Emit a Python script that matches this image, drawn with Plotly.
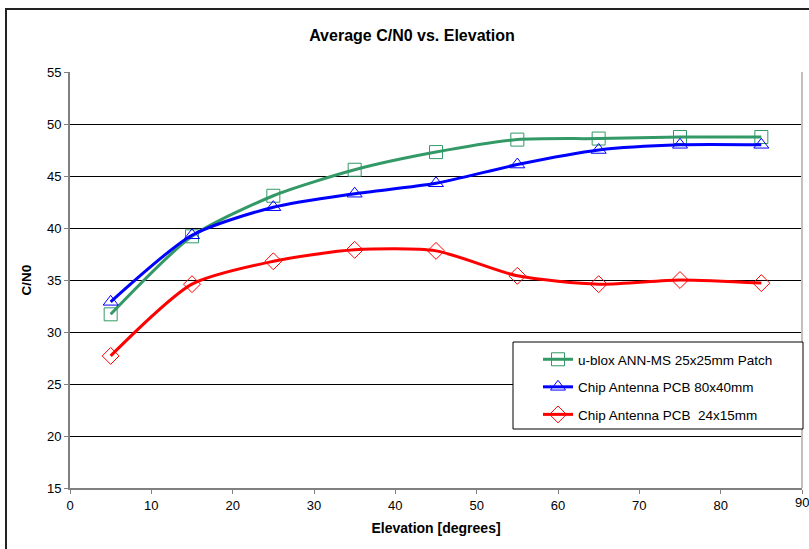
import plotly.graph_objects as go

elevation = [5, 15, 25, 35, 45, 55, 65, 75, 85]
ublox_patch = [31.7, 39.2, 43.1, 45.6, 47.3, 48.5, 48.6, 48.75, 48.75]
chip_80x40 = [32.9, 39.3, 42.0, 43.3, 44.3, 46.1, 47.5, 48.0, 48.0]
chip_24x15 = [27.7, 34.6, 36.8, 37.9, 37.8, 35.4, 34.6, 35.0, 34.7]
names = ["u-blox ANN-MS 25x25mm Patch", "Chip Antenna PCB 80x40mm", "Chip Antenna PCB  24x15mm"]
x_tick_vals = [0, 10, 20, 30, 40, 50, 60, 70, 80]
last_x_tick = 90

W, H = 809, 549
L, R, T, B = 70, 7, 72, 61
pw, ph = W - L - R, H - T - B

def px(x):
    return (x - L) / pw

def py(y):
    return (H - B - y) / ph

fig = go.Figure()
series = [
    (ublox_patch, "#339966", "square-open"),
    (chip_80x40, "#0000FF", "triangle-up-open"),
    (chip_24x15, "#FF0000", "diamond-open"),
]
for i, ((vals, col, sym), nm) in enumerate(zip(series, names)):
    fig.add_trace(go.Scatter(
        x=elevation, y=vals, name=nm, mode="lines+markers",
        line=dict(color=col, width=3, shape="spline", smoothing=0.7),
        marker=dict(symbol=sym, size=13, color=col, line=dict(width=1, color=col)),
        legendgroup=f"g{i}",
    ))

fig.update_layout(
    width=W, height=H,
    margin=dict(l=L, r=R, t=T, b=B, autoexpand=False),
    paper_bgcolor="white", plot_bgcolor="white",
    font=dict(family="Liberation Sans, Arial, sans-serif", size=13, color="black"),
    title=dict(text="<b>Average C/N0 vs. Elevation</b>", x=412 / W, xanchor="center",
               y=1 - 35 / H, yanchor="middle", font=dict(size=16)),
    showlegend=True,
    legend=dict(x=px(538), y=py(344), xanchor="left", yanchor="top",
                bgcolor="rgba(0,0,0,0)", borderwidth=0,
                traceorder="grouped", tracegroupgap=7,
                font=dict(size=13.5)),
    xaxis=dict(range=[0, 90], tickmode="array", tickvals=x_tick_vals + [last_x_tick],
               ticktext=[str(v) for v in x_tick_vals] + [""],
               showgrid=False, zeroline=False,
               showline=True, linecolor="#808080", linewidth=2, automargin=False,
               ticks="outside", ticklen=4, tickcolor="#808080",
               title=dict(text="<b>Elevation [degrees]</b>", font=dict(size=14), standoff=12)),
    yaxis=dict(range=[15, 55], dtick=5, tick0=15, showgrid=True, gridcolor="black", gridwidth=1,
               zeroline=False, showline=True, linecolor="#808080", linewidth=2, mirror=False,
               automargin=False,
               ticks="outside", ticklen=4, tickcolor="#808080",
               title=dict(text="<b>C/N0</b>", font=dict(size=13.5), standoff=12)),
)

# tick label at the clipped right edge
fig.add_annotation(x=last_x_tick, xref="x", y=0, yref="paper", yanchor="top", yshift=-5,
                   text=str(last_x_tick), showarrow=False, font=dict(size=13))

# right plot-area border
fig.add_shape(type="line", xref="paper", yref="paper", x0=1, x1=1, y0=0, y1=1,
              line=dict(color="#C0C0C0", width=2))
# legend box
fig.add_shape(type="rect", xref="paper", yref="paper", layer="above",
              x0=px(513), x1=px(803), y0=py(429), y1=py(342),
              fillcolor="white", line=dict(color="black", width=1))
# outer chart border
fig.add_shape(type="rect", xref="paper", yref="paper", layer="above",
              x0=px(6), x1=px(830), y0=py(570), y1=py(9),
              fillcolor="rgba(0,0,0,0)", line=dict(color="#222222", width=2))

fig.write_html("out.html", config={"displayModeBar": False},
               post_script="document.body.style.margin='0';")
